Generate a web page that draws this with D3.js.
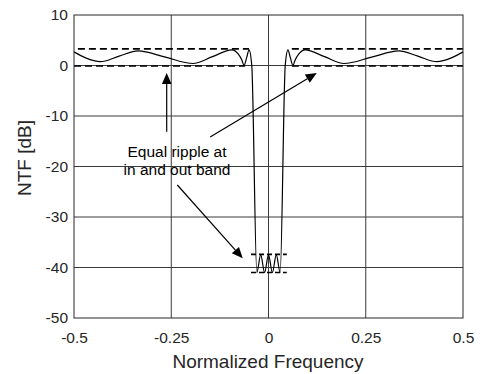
<!DOCTYPE html>
<html>
<head>
<meta charset="utf-8">
<script src="https://cdn.jsdelivr.net/npm/d3@7"></script>
<style>
  html, body { margin: 0; padding: 0; background: #fff; }
  svg { display: block; font-family: "Liberation Sans", Arial, sans-serif; }
</style>
</head>
<body>
<svg id="chart" width="482" height="374"></svg>
<script>
// ---------- data ----------
const xTicks = [-0.5, -0.25, 0, 0.25, 0.5];
const xTickLabels = ["-0.5", "-0.25", "0", "0.25", "0.5"];
const yTicks = [10, 0, -10, -20, -30, -40, -50];
const yTickLabels = ["10", "0", "-10", "-20", "-30", "-40", "-50"];

// NTF magnitude response (normalized frequency, dB)
const freq = [-0.5, -0.47, -0.433, -0.384, -0.335, -0.265, -0.194, -0.144, -0.094, -0.078, -0.068, -0.063, -0.056, -0.050, -0.043,
              -0.030, -0.020, -0.010, 0, 0.010, 0.020, 0.030,
              0.043, 0.050, 0.056, 0.063, 0.068, 0.078, 0.094, 0.144, 0.194, 0.265, 0.335, 0.384, 0.433, 0.47, 0.5];
const ntfDb = [2.7, 1.5, 0.75, 1.85, 2.9, 1.65, 0.4, 1.75, 3.1, 2.3, 1.0, 0.0, 1.6, 3.1, 0.0,
               -41, -37.5, -41, -37.5, -41, -37.5, -41,
               0.0, 3.1, 1.6, 0.0, 1.0, 2.3, 3.1, 1.75, 0.4, 1.65, 2.9, 1.85, 0.75, 1.5, 2.7];

// ripple bounds (dashed): [fStart, fEnd, level dB]
const boundStart = [-0.49, 0.06, -0.5, 0.06, -0.045, -0.045];
const boundEnd   = [-0.05, 0.5, -0.06, 0.5, 0.047, 0.047];
const boundLevel = [3.3, 3.3, -0.1, -0.1, -37.4, -41.0];

// annotation
const noteLines = ["Equal ripple at", "in and out band"];
const notePos = [[-0.2352, -18.06], [-0.2352, -21.68]];
const arrowFrom = [[-0.2617, -13.1], [-0.150, -14.16], [-0.2344, -23.66]];
const arrowTo   = [[-0.2617, -1.49], [0.124, -1.49], [-0.0663, -38.18]];

// ---------- layout ----------
const svg = d3.select("#chart");
const L = 74, R = 463, T = 15, B = 318;
const x = d3.scaleLinear().domain([-0.5, 0.5]).range([L, R]);
const y = d3.scaleLinear().domain([-50, 10]).range([B, T]);
const textColor = "#262626";

// grid
const g = svg.append("g");
g.selectAll("line.vg").data(xTicks.slice(1, -1)).enter().append("line")
  .attr("x1", d => x(d)).attr("x2", d => x(d)).attr("y1", T).attr("y2", B)
  .attr("stroke", "#3a3a3a").attr("stroke-width", 1);
g.selectAll("line.hg").data(yTicks.slice(1, -1)).enter().append("line")
  .attr("y1", d => y(d)).attr("y2", d => y(d)).attr("x1", L).attr("x2", R)
  .attr("stroke", "#3a3a3a").attr("stroke-width", 1);

// ripple bounds
boundLevel.forEach((lv, i) => {
  const small = i >= 4;
  svg.append("line")
    .attr("x1", x(boundStart[i])).attr("x2", x(boundEnd[i]))
    .attr("y1", y(lv)).attr("y2", y(lv))
    .attr("stroke", "#000").attr("stroke-width", 1.6)
    .attr("stroke-dasharray", small ? "5,3" : "7,4");
});

// NTF curve
const pts = freq.map((f, i) => [f, ntfDb[i]]);
const line = d3.line().x(d => x(d[0])).y(d => y(d[1])).curve(d3.curveMonotoneX);
svg.append("path").datum(pts).attr("d", line)
  .attr("fill", "none").attr("stroke", "#000").attr("stroke-width", 1.2);

// frame
svg.append("rect").attr("x", L).attr("y", T).attr("width", R - L).attr("height", B - T)
  .attr("fill", "none").attr("stroke", "#262626").attr("stroke-width", 1);

// axes (tick labels only, via d3 axis)
const xAxis = d3.axisBottom(x).tickValues(xTicks).tickFormat((d, i) => xTickLabels[i]).tickSize(0).tickPadding(14);
const xg = svg.append("g").attr("transform", `translate(0,${B})`).call(xAxis);
xg.select(".domain").remove();
xg.selectAll("text").attr("font-size", "15.5px").attr("fill", textColor)
  .attr("font-family", "Liberation Sans, Arial, sans-serif");

const yAxis = d3.axisLeft(y).tickValues(yTicks).tickFormat((d, i) => yTickLabels[i]).tickSize(0).tickPadding(6);
const yg = svg.append("g").attr("transform", `translate(${L},0)`).call(yAxis);
yg.select(".domain").remove();
yg.selectAll("text").attr("font-size", "15.5px").attr("fill", textColor)
  .attr("font-family", "Liberation Sans, Arial, sans-serif");

// axis labels
svg.append("text").attr("x", (L + R) / 2 - 0.5).attr("y", 368).attr("text-anchor", "middle")
  .attr("font-size", "19px").attr("fill", textColor).text("Normalized Frequency");
svg.append("text").attr("transform", "translate(30.5,158) rotate(-90)").attr("text-anchor", "middle")
  .attr("font-size", "19px").attr("fill", textColor).text("NTF [dB]");

// annotation text
noteLines.forEach((t, i) => {
  svg.append("text").attr("x", x(notePos[i][0])).attr("y", y(notePos[i][1]))
    .attr("text-anchor", "middle").attr("font-size", "15.5px").attr("fill", "#000").text(t);
});

// arrows
arrowFrom.forEach((a, i) => {
  const x1 = x(a[0]), y1 = y(a[1]), x2 = x(arrowTo[i][0]), y2 = y(arrowTo[i][1]);
  const ang = Math.atan2(y2 - y1, x2 - x1);
  const len = 11, hw = 4.8;
  const bx = x2 - len * Math.cos(ang), by = y2 - len * Math.sin(ang);
  svg.append("line").attr("x1", x1).attr("y1", y1).attr("x2", bx).attr("y2", by)
    .attr("stroke", "#000").attr("stroke-width", 1.2);
  const px = -Math.sin(ang) * hw, py = Math.cos(ang) * hw;
  svg.append("path")
    .attr("d", `M${x2},${y2}L${bx + px},${by + py}L${bx - px},${by - py}Z`)
    .attr("fill", "#000");
});
</script>
</body>
</html>
